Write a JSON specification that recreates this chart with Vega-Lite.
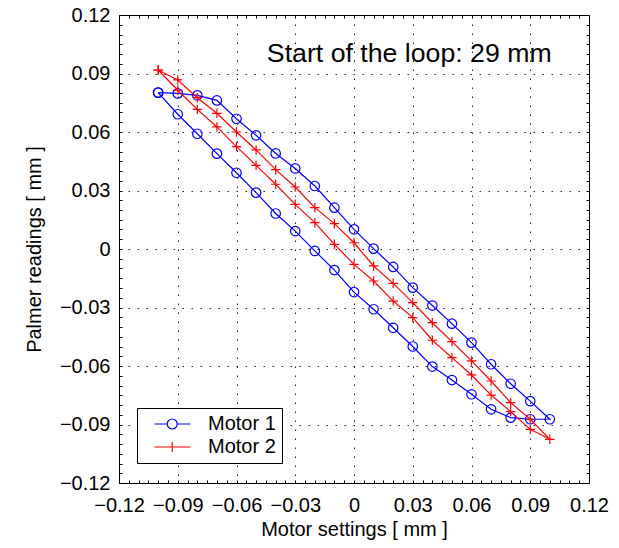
{
  "$schema": "https://vega.github.io/schema/vega-lite/v6.json",
  "width": 470,
  "height": 468,
  "autosize": {"type": "none"},
  "padding": {"left": 119, "top": 15, "right": 30, "bottom": 65},
  "background": "white",
  "config": {
    "view": {"stroke": null},
    "font": "Liberation Sans",
    "axis": {"labelFont": "Liberation Sans", "titleFont": "Liberation Sans", "labelColor": "black", "titleColor": "black", "tickColor": "black", "domainColor": "black"}
  },
  "datasets": {
    "loops": [
      {"s": "Motor 1", "i": 0, "x": -0.10, "y": 0.0802},
      {"s": "Motor 1", "i": 1, "x": -0.09, "y": 0.0691},
      {"s": "Motor 1", "i": 2, "x": -0.08, "y": 0.0591},
      {"s": "Motor 1", "i": 3, "x": -0.07, "y": 0.0489},
      {"s": "Motor 1", "i": 4, "x": -0.06, "y": 0.0391},
      {"s": "Motor 1", "i": 5, "x": -0.05, "y": 0.0289},
      {"s": "Motor 1", "i": 6, "x": -0.04, "y": 0.0182},
      {"s": "Motor 1", "i": 7, "x": -0.03, "y": 0.0092},
      {"s": "Motor 1", "i": 8, "x": -0.02, "y": -0.0010},
      {"s": "Motor 1", "i": 9, "x": -0.01, "y": -0.0108},
      {"s": "Motor 1", "i": 10, "x": 0.00, "y": -0.0221},
      {"s": "Motor 1", "i": 11, "x": 0.01, "y": -0.0309},
      {"s": "Motor 1", "i": 12, "x": 0.02, "y": -0.0404},
      {"s": "Motor 1", "i": 13, "x": 0.03, "y": -0.0500},
      {"s": "Motor 1", "i": 14, "x": 0.04, "y": -0.0603},
      {"s": "Motor 1", "i": 15, "x": 0.05, "y": -0.0672},
      {"s": "Motor 1", "i": 16, "x": 0.06, "y": -0.0745},
      {"s": "Motor 1", "i": 17, "x": 0.07, "y": -0.0822},
      {"s": "Motor 1", "i": 18, "x": 0.08, "y": -0.0865},
      {"s": "Motor 1", "i": 19, "x": 0.09, "y": -0.0873},
      {"s": "Motor 1", "i": 20, "x": 0.10, "y": -0.0873},
      {"s": "Motor 1", "i": 21, "x": 0.09, "y": -0.0780},
      {"s": "Motor 1", "i": 22, "x": 0.08, "y": -0.0691},
      {"s": "Motor 1", "i": 23, "x": 0.07, "y": -0.0591},
      {"s": "Motor 1", "i": 24, "x": 0.06, "y": -0.0480},
      {"s": "Motor 1", "i": 25, "x": 0.05, "y": -0.0383},
      {"s": "Motor 1", "i": 26, "x": 0.04, "y": -0.0290},
      {"s": "Motor 1", "i": 27, "x": 0.03, "y": -0.0198},
      {"s": "Motor 1", "i": 28, "x": 0.02, "y": -0.0092},
      {"s": "Motor 1", "i": 29, "x": 0.01, "y": 0.0002},
      {"s": "Motor 1", "i": 30, "x": 0.00, "y": 0.0101},
      {"s": "Motor 1", "i": 31, "x": -0.01, "y": 0.0212},
      {"s": "Motor 1", "i": 32, "x": -0.02, "y": 0.0323},
      {"s": "Motor 1", "i": 33, "x": -0.03, "y": 0.0413},
      {"s": "Motor 1", "i": 34, "x": -0.04, "y": 0.0490},
      {"s": "Motor 1", "i": 35, "x": -0.05, "y": 0.0583},
      {"s": "Motor 1", "i": 36, "x": -0.06, "y": 0.0668},
      {"s": "Motor 1", "i": 37, "x": -0.07, "y": 0.0762},
      {"s": "Motor 1", "i": 38, "x": -0.08, "y": 0.0788},
      {"s": "Motor 1", "i": 39, "x": -0.09, "y": 0.0798},
      {"s": "Motor 1", "i": 40, "x": -0.10, "y": 0.0802},
      {"s": "Motor 2", "i": 0, "x": -0.10, "y": 0.0918},
      {"s": "Motor 2", "i": 1, "x": -0.09, "y": 0.0814},
      {"s": "Motor 2", "i": 2, "x": -0.08, "y": 0.0716},
      {"s": "Motor 2", "i": 3, "x": -0.07, "y": 0.0626},
      {"s": "Motor 2", "i": 4, "x": -0.06, "y": 0.0525},
      {"s": "Motor 2", "i": 5, "x": -0.05, "y": 0.0429},
      {"s": "Motor 2", "i": 6, "x": -0.04, "y": 0.0332},
      {"s": "Motor 2", "i": 7, "x": -0.03, "y": 0.0229},
      {"s": "Motor 2", "i": 8, "x": -0.02, "y": 0.0135},
      {"s": "Motor 2", "i": 9, "x": -0.01, "y": 0.0024},
      {"s": "Motor 2", "i": 10, "x": 0.00, "y": -0.0079},
      {"s": "Motor 2", "i": 11, "x": 0.01, "y": -0.0164},
      {"s": "Motor 2", "i": 12, "x": 0.02, "y": -0.0267},
      {"s": "Motor 2", "i": 13, "x": 0.03, "y": -0.0352},
      {"s": "Motor 2", "i": 14, "x": 0.04, "y": -0.0468},
      {"s": "Motor 2", "i": 15, "x": 0.05, "y": -0.0557},
      {"s": "Motor 2", "i": 16, "x": 0.06, "y": -0.0646},
      {"s": "Motor 2", "i": 17, "x": 0.07, "y": -0.0749},
      {"s": "Motor 2", "i": 18, "x": 0.08, "y": -0.0834},
      {"s": "Motor 2", "i": 19, "x": 0.09, "y": -0.0925},
      {"s": "Motor 2", "i": 20, "x": 0.10, "y": -0.0976},
      {"s": "Motor 2", "i": 21, "x": 0.09, "y": -0.0873},
      {"s": "Motor 2", "i": 22, "x": 0.08, "y": -0.0788},
      {"s": "Motor 2", "i": 23, "x": 0.07, "y": -0.0677},
      {"s": "Motor 2", "i": 24, "x": 0.06, "y": -0.0574},
      {"s": "Motor 2", "i": 25, "x": 0.05, "y": -0.0475},
      {"s": "Motor 2", "i": 26, "x": 0.04, "y": -0.0378},
      {"s": "Motor 2", "i": 27, "x": 0.03, "y": -0.0275},
      {"s": "Motor 2", "i": 28, "x": 0.02, "y": -0.0176},
      {"s": "Motor 2", "i": 29, "x": 0.01, "y": -0.0087},
      {"s": "Motor 2", "i": 30, "x": 0.00, "y": 0.0032},
      {"s": "Motor 2", "i": 31, "x": -0.01, "y": 0.0130},
      {"s": "Motor 2", "i": 32, "x": -0.02, "y": 0.0212},
      {"s": "Motor 2", "i": 33, "x": -0.03, "y": 0.0318},
      {"s": "Motor 2", "i": 34, "x": -0.04, "y": 0.0407},
      {"s": "Motor 2", "i": 35, "x": -0.05, "y": 0.0508},
      {"s": "Motor 2", "i": 36, "x": -0.06, "y": 0.0600},
      {"s": "Motor 2", "i": 37, "x": -0.07, "y": 0.0696},
      {"s": "Motor 2", "i": 38, "x": -0.08, "y": 0.0776},
      {"s": "Motor 2", "i": 39, "x": -0.09, "y": 0.0867},
      {"s": "Motor 2", "i": 40, "x": -0.10, "y": 0.0918}
    ],
    "note": [{"x": -0.0445, "y": 0.0961, "t": "Start of the loop: 29 mm"}]
  },
  "data": {"name": "loops"},
  "resolve": {"axis": {"x": "independent", "y": "independent"}},
  "layer": [
    {
      "transform": [{"filter": "datum.s === 'Motor 1'"}],
      "mark": {"type": "line", "strokeWidth": 1.2},
      "encoding": {
        "x": {"field": "x", "type": "quantitative",
          "scale": {"domain": [-0.12, 0.12], "nice": false, "zero": false},
          "axis": {
            "orient": "bottom",
            "values": [-0.12,-0.115,-0.11,-0.105,-0.1,-0.095,-0.09,-0.085,-0.08,-0.075,-0.07,-0.065,-0.06,-0.055,-0.05,-0.045,-0.04,-0.035,-0.03,-0.025,-0.02,-0.015,-0.01,-0.005,0,0.005,0.01,0.015,0.02,0.025,0.03,0.035,0.04,0.045,0.05,0.055,0.06,0.065,0.07,0.075,0.08,0.085,0.09,0.095,0.1,0.105,0.11,0.115,0.12],
            "labelExpr": "abs(datum.value/0.03 - round(datum.value/0.03)) < 0.01 ? (abs(datum.value) < 0.0001 ? '0' : format(datum.value, '.2f')) : ''",
            "labelFontSize": 20, "labelPadding": 15, "labelOverlap": false, "labelFlush": false,
            "tickSize": -3, "tickWidth": 1,
            "domainWidth": 1,
            "grid": true, "gridColor": "black", "gridDash": [1.5, 7.5], "gridWidth": 1,
            "gridOpacity": {"condition": {"test": "abs(datum.value/0.03 - round(datum.value/0.03)) < 0.01", "value": 0.85}, "value": 0},
            "title": "Motor settings [ mm ]", "titleFontSize": 20, "titleFontWeight": "normal",
            "titleX": 235, "titleY": 52, "titleBaseline": "alphabetic", "titleAlign": "center"
          }},
        "y": {"field": "y", "type": "quantitative",
          "scale": {"domain": [-0.12, 0.12], "nice": false, "zero": false},
          "axis": {
            "orient": "left",
            "values": [-0.12,-0.115,-0.11,-0.105,-0.1,-0.095,-0.09,-0.085,-0.08,-0.075,-0.07,-0.065,-0.06,-0.055,-0.05,-0.045,-0.04,-0.035,-0.03,-0.025,-0.02,-0.015,-0.01,-0.005,0,0.005,0.01,0.015,0.02,0.025,0.03,0.035,0.04,0.045,0.05,0.055,0.06,0.065,0.07,0.075,0.08,0.085,0.09,0.095,0.1,0.105,0.11,0.115,0.12],
            "labelExpr": "abs(datum.value/0.03 - round(datum.value/0.03)) < 0.01 ? (abs(datum.value) < 0.0001 ? '0' : format(datum.value, '.2f')) : ''",
            "labelFontSize": 20, "labelPadding": 12, "labelOverlap": false, "labelFlush": false,
            "tickSize": -3, "tickWidth": 1,
            "domainWidth": 1,
            "grid": true, "gridColor": "black", "gridDash": [1.5, 7.5], "gridWidth": 1,
            "gridOpacity": {"condition": {"test": "abs(datum.value/0.03 - round(datum.value/0.03)) < 0.01", "value": 0.85}, "value": 0},
            "title": "Palmer readings [ mm ]", "titleFontSize": 20, "titleFontWeight": "normal",
            "titleX": -79, "titleY": 234, "titleBaseline": "alphabetic", "titleAlign": "center", "titleAngle": -90
          }},
        "order": {"field": "i", "type": "quantitative"},
        "color": {"field": "s", "type": "nominal",
          "scale": {"domain": ["Motor 1", "Motor 2"], "range": ["#0000ff", "#ff0000"]},
          "legend": {
            "orient": "none", "legendX": 18, "legendY": 393, "title": null,
            "padding": 6, "rowPadding": 3, "labelFontSize": 20, "labelFont": "Liberation Sans", "labelColor": "black",
            "labelOffset": 45, "symbolSize": 100,
            "fillColor": "white", "strokeColor": "black",
            "labelExpr": "datum.label + '\u00a0\u00a0'",
            "encode": {
              "symbols": {"update": {
                "shape": {"signal": "datum.value === 'Motor 1' ? 'M0.3,0L2.84,0M4.84,0L7.5,0M2.84,0A1,1 0 1,1 4.84,0A1,1 0 1,1 2.84,0' : 'M0.3,0L7.5,0M3.84,-1L3.84,1'"},
                "fill": {"value": "transparent"},
                "stroke": {"scale": "color", "field": "value"},
                "strokeWidth": {"value": 1.2},
                "opacity": {"value": 1}
              }}
            }
          }}
      }
    },
    {
      "transform": [{"filter": "datum.s === 'Motor 1'"}],
      "mark": {"type": "point", "shape": "circle", "filled": false, "size": 90, "strokeWidth": 1.2, "opacity": 1},
      "encoding": {
        "x": {"field": "x", "type": "quantitative", "scale": {"domain": [-0.12, 0.12], "nice": false, "zero": false}, "axis": null},
        "y": {"field": "y", "type": "quantitative", "scale": {"domain": [-0.12, 0.12], "nice": false, "zero": false}, "axis": null},
        "color": {"field": "s", "type": "nominal"}
      }
    },
    {
      "transform": [{"filter": "datum.s === 'Motor 2'"}],
      "mark": {"type": "line", "strokeWidth": 1.2},
      "encoding": {
        "x": {"field": "x", "type": "quantitative", "scale": {"domain": [-0.12, 0.12], "nice": false, "zero": false}, "axis": null},
        "y": {"field": "y", "type": "quantitative", "scale": {"domain": [-0.12, 0.12], "nice": false, "zero": false}, "axis": null},
        "order": {"field": "i", "type": "quantitative"},
        "color": {"field": "s", "type": "nominal"}
      }
    },
    {
      "transform": [{"filter": "datum.s === 'Motor 2'"}],
      "mark": {"type": "point", "shape": "M-1,0L1,0M0,-1L0,1", "filled": false, "size": 90, "strokeWidth": 1.2, "opacity": 1},
      "encoding": {
        "x": {"field": "x", "type": "quantitative", "scale": {"domain": [-0.12, 0.12], "nice": false, "zero": false}, "axis": null},
        "y": {"field": "y", "type": "quantitative", "scale": {"domain": [-0.12, 0.12], "nice": false, "zero": false}, "axis": null},
        "color": {"field": "s", "type": "nominal"}
      }
    },
    {
      "data": {"name": "note"},
      "mark": {"type": "text", "align": "left", "baseline": "alphabetic", "fontSize": 26.7, "font": "Liberation Sans", "color": "black"},
      "encoding": {
        "x": {"field": "x", "type": "quantitative", "scale": {"domain": [-0.12, 0.12], "nice": false, "zero": false},
          "axis": {"orient": "top", "title": null, "labels": false, "grid": false, "tickSize": -3, "tickWidth": 1, "domainWidth": 1,
            "values": [-0.12,-0.115,-0.11,-0.105,-0.1,-0.095,-0.09,-0.085,-0.08,-0.075,-0.07,-0.065,-0.06,-0.055,-0.05,-0.045,-0.04,-0.035,-0.03,-0.025,-0.02,-0.015,-0.01,-0.005,0,0.005,0.01,0.015,0.02,0.025,0.03,0.035,0.04,0.045,0.05,0.055,0.06,0.065,0.07,0.075,0.08,0.085,0.09,0.095,0.1,0.105,0.11,0.115,0.12]}},
        "y": {"field": "y", "type": "quantitative", "scale": {"domain": [-0.12, 0.12], "nice": false, "zero": false},
          "axis": {"orient": "right", "title": null, "labels": false, "grid": false, "tickSize": -3, "tickWidth": 1, "domainWidth": 1,
            "values": [-0.12,-0.115,-0.11,-0.105,-0.1,-0.095,-0.09,-0.085,-0.08,-0.075,-0.07,-0.065,-0.06,-0.055,-0.05,-0.045,-0.04,-0.035,-0.03,-0.025,-0.02,-0.015,-0.01,-0.005,0,0.005,0.01,0.015,0.02,0.025,0.03,0.035,0.04,0.045,0.05,0.055,0.06,0.065,0.07,0.075,0.08,0.085,0.09,0.095,0.1,0.105,0.11,0.115,0.12]}},
        "text": {"field": "t", "type": "nominal"}
      }
    }
  ]
}
